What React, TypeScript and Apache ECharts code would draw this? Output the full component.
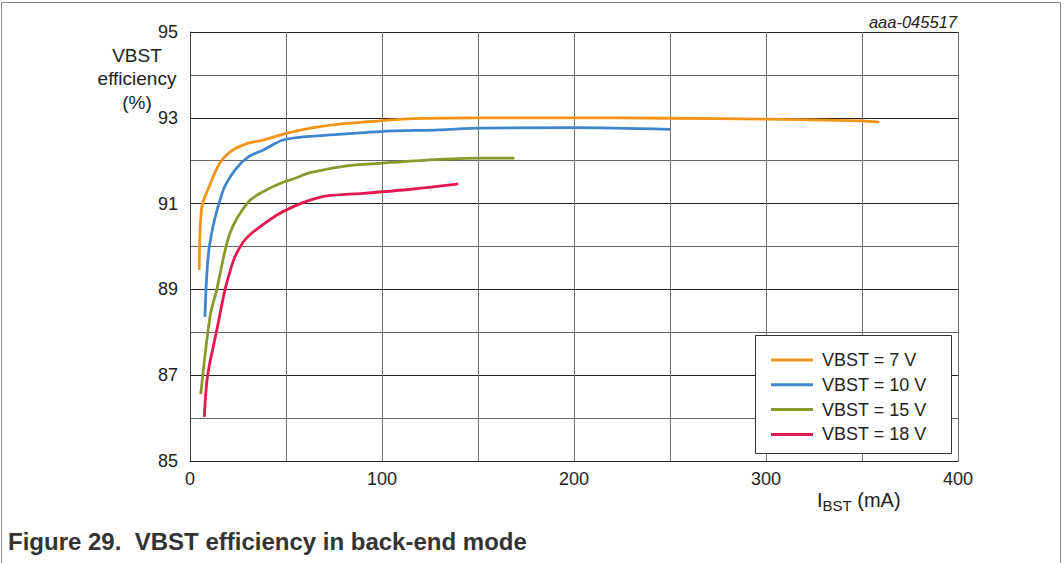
import React, { useEffect, useRef } from "react";
import * as echarts from "echarts";

const seriesNames = ["VBST = 7 V", "VBST = 10 V", "VBST = 15 V", "VBST = 18 V"];
const colors = ["#F39417", "#3F87CD", "#8B982B", "#E4174E"];

const vbst7: [number, number][] = [
  [4.8, 89.45], [6.1, 90.9], [10, 91.4], [15.6, 91.95], [21.7, 92.23], [30.4, 92.41],
  [38.2, 92.48], [48.6, 92.62], [64.2, 92.77], [81.6, 92.87], [99, 92.93], [116, 92.98],
  [150, 93.0], [200, 93.0], [250, 92.99], [300, 92.97], [350, 92.93], [359, 92.9],
];
const vbst10: [number, number][] = [
  [7.8, 88.36], [10.1, 90.0], [17, 91.28], [23.4, 91.78], [30.4, 92.09], [38.2, 92.25],
  [47.7, 92.47], [55.6, 92.54], [72.9, 92.6], [99, 92.68], [130, 92.72], [151, 92.76],
  [200, 92.77], [250, 92.73],
];
const vbst15: [number, number][] = [
  [5.6, 86.56], [10.4, 88.36], [13.9, 88.99], [20.8, 90.31], [30.4, 91.04], [38.2, 91.28],
  [46.9, 91.47], [54.7, 91.59], [62.5, 91.72], [81.6, 91.88], [99, 91.94], [125, 92.02],
  [151, 92.06], [169, 92.06],
];
const vbst18: [number, number][] = [
  [7.45, 86.03], [8.7, 86.82], [10.1, 87.24], [12.1, 87.66], [14.7, 88.22], [18.2, 88.99],
  [20.8, 89.41], [23.4, 89.76], [27.8, 90.11], [32.1, 90.31], [36.5, 90.46], [45.1, 90.73],
  [53.8, 90.93], [62.5, 91.08], [71.2, 91.18], [90.3, 91.24], [116.3, 91.34], [139.7, 91.46],
];
const allData = [vbst7, vbst10, vbst15, vbst18];

const yMin = 85;
const yMax = 95;
const xMin = 0;
const xMax = 400;

const FONT = "'Liberation Sans', Arial, sans-serif";

export default function App() {
  const ref = useRef<HTMLDivElement>(null);
  useEffect(() => {
    if (!ref.current) return;
    const chart = echarts.init(ref.current, undefined, { renderer: "svg" });
    chart.setOption({
      animation: false,
      backgroundColor: "#fff",
      textStyle: { fontFamily: FONT },
      grid: { left: 190, top: 32, width: 768, height: 429, containLabel: false },
      xAxis: {
        type: "value",
        min: xMin,
        max: xMax,
        interval: 50,
        axisLine: { show: true, lineStyle: { color: "#222", width: 1 } },
        axisTick: { show: false },
        axisLabel: {
          color: "#222",
          fontSize: 18,
          fontFamily: FONT,
          margin: 9,
          formatter: (v: number) => (v % 100 === 0 ? String(v) : ""),
        },
        splitLine: { show: true, lineStyle: { color: "#707070", width: 1 } },
      },
      yAxis: {
        type: "value",
        min: yMin,
        max: yMax,
        interval: 1,
        axisLine: { show: true, lineStyle: { color: "#444", width: 1 } },
        axisTick: { show: false },
        axisLabel: {
          color: "#222",
          fontSize: 18,
          fontFamily: FONT,
          margin: 12,
          formatter: (v: number) => (v % 2 === 1 ? String(v) : ""),
        },
        splitLine: { show: true, lineStyle: { color: ["#222", "#666"], width: 1 } },
      },
      legend: {
        orient: "vertical",
        left: 771,
        top: 351,
        padding: 0,
        itemGap: 6.8,
        itemWidth: 42,
        itemHeight: 3,
        z: 10,
        textStyle: { fontSize: 18, color: "#222", fontFamily: FONT, padding: [0, 0, 0, 4] },
        data: seriesNames.map((n) => ({ name: n, icon: "rect" })),
      },
      series: allData.map((d, i) => ({
        name: seriesNames[i],
        type: "line",
        data: d,
        smooth: 0.3,
        symbol: "none",
        lineStyle: { color: colors[i], width: 2.8 },
        itemStyle: { color: colors[i] },
        z: 3,
      })),
      graphic: [
        {
          type: "rect",
          shape: { x: 1.5, y: 2.5, width: 1059, height: 620 },
          style: { fill: "none", stroke: "#8a8a8a", lineWidth: 1 },
          silent: true,
          z: 1,
        },
        {
          type: "rect",
          shape: { x: 755.5, y: 335.5, width: 196, height: 118 },
          style: { fill: "#fff", stroke: "#333", lineWidth: 1 },
          silent: true,
          z: 5,
        },
        {
          type: "text",
          x: 957,
          y: 22,
          style: {
            text: "aaa-045517",
            fill: "#222",
            font: `italic 16.5px ${FONT}`,
            align: "right",
            verticalAlign: "middle",
          },
        },
        {
          type: "text",
          x: 137,
          y: 78.5,
          style: {
            text: "VBST\nefficiency\n(%)",
            fill: "#222",
            font: `19px ${FONT}`,
            align: "center",
            verticalAlign: "middle",
            lineHeight: 23.5,
          },
        },
        {
          type: "text",
          x: 817,
          y: 500,
          style: {
            text: "{a|I}{b|BST}{a| (mA)}",
            verticalAlign: "middle",
            rich: {
              a: { fontSize: 20, fontFamily: FONT, fill: "#222", verticalAlign: "middle" },
              b: { fontSize: 15, fontFamily: FONT, fill: "#222", padding: [10, 0, 0, 0] },
            },
          },
        },
        {
          type: "text",
          x: 8,
          y: 541,
          style: {
            text: "Figure 29.  VBST efficiency in back-end mode",
            fill: "#333",
            font: `bold 24px ${FONT}`,
            verticalAlign: "middle",
          },
        },
      ],
    });
    return () => chart.dispose();
  }, []);
  return (
    <div
      ref={ref}
      style={{ position: "fixed", left: 0, top: 0, width: 1064, height: 563 }}
    />
  );
}
